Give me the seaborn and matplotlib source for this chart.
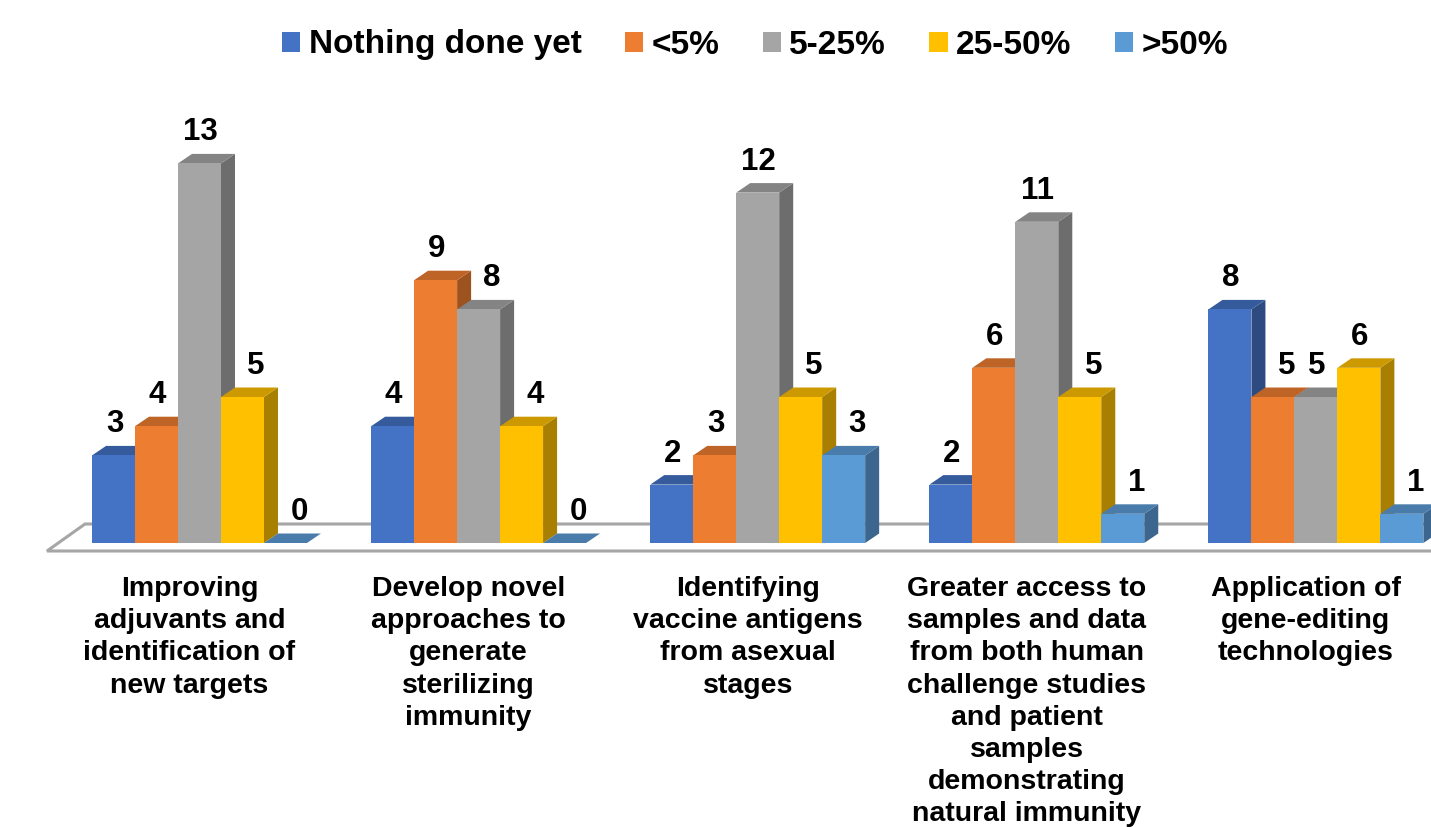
import numpy as np
import pandas as pd
import seaborn as sns
import matplotlib
matplotlib.use("Agg")
import matplotlib.pyplot as plt
from matplotlib.patches import Polygon, Patch
from matplotlib import colors as mcolors

# ---------------- data ----------------
categories = [
    "Improving\nadjuvants and\nidentification of\nnew targets",
    "Develop novel\napproaches to\ngenerate\nsterilizing\nimmunity",
    "Identifying\nvaccine antigens\nfrom asexual\nstages",
    "Greater access to\nsamples and data\nfrom both human\nchallenge studies\nand patient\nsamples\ndemonstrating\nnatural immunity",
    "Application of\ngene-editing\ntechnologies",
]
series_names = ["Nothing done yet", "<5%", "5-25%", "25-50%", ">50%"]
nothing_done = [3, 4, 2, 2, 8]
lt5 = [4, 9, 3, 6, 5]
p5_25 = [13, 8, 12, 11, 5]
p25_50 = [5, 4, 5, 5, 6]
gt50 = [0, 0, 3, 1, 1]
series_values = [nothing_done, lt5, p5_25, p25_50, gt50]
series_colors = ["#4472C4", "#ED7D31", "#A5A5A5", "#FFC000", "#5B9BD5"]

rows = []
for name, vals in zip(series_names, series_values):
    for cat, v in zip(categories, vals):
        rows.append({"category": cat, "series": name, "value": v})
df = pd.DataFrame(rows)

# ---------------- figure ----------------
sns.set_theme(style="white")
plt.rcParams["font.family"] = ["Liberation Sans", "DejaVu Sans"]
plt.rcParams["font.weight"] = "bold"
plt.rcParams["text.color"] = "black"

W, H = 1431, 827
fig = plt.figure(figsize=(W / 100, H / 100), dpi=100)
ax = fig.add_axes([0, 0, 1, 1])

sns.barplot(data=df, x="category", y="value", hue="series",
            hue_order=series_names, order=categories,
            palette=series_colors, saturation=1, width=0.77,
            linewidth=0, edgecolor="none", legend=False, ax=ax)

# pixel mapping: x_px = 199.5 + 279.1*x ; y_px(top) = 543 - 29.2*v
px_per_x = 279.1
px_per_y = 29.2
x0_px = 199.5
base_px = 543.0
ax.set_xlim(-x0_px / px_per_x, (W - x0_px) / px_per_x)
ax.set_ylim(-(H - base_px) / px_per_y, base_px / px_per_y)
ax.set_axis_off()

# 3D depth offsets (in data units)
dx = 14 / px_per_x
dy = 9.5 / px_per_y

def shade(c, f):
    r, g, b = mcolors.to_rgb(c)
    return (r * f, g * f, b * f)

bars = list(ax.patches)
bars_sorted = sorted(bars, key=lambda p: p.get_x())
prev = None
for k, p in enumerate(bars_sorted):
    x0 = p.get_x()
    w = p.get_width()
    x1 = x0 + w
    h = p.get_height()
    fc = p.get_facecolor()
    z = 10 + 3 * k
    side = Polygon([(x1, 0), (x1 + dx, dy), (x1 + dx, h + dy), (x1, h)],
                   closed=True, facecolor=shade(fc, 0.66), edgecolor="none", zorder=z)
    top = Polygon([(x0, h), (x1, h), (x1 + dx, h + dy), (x0 + dx, h + dy)],
                  closed=True, facecolor=shade(fc, 0.80), edgecolor="none", zorder=z + 1)
    ax.add_patch(side)
    ax.add_patch(top)
    p.set_zorder(z + 2)
    # value label: pushed towards the bar's right edge when the left neighbour is taller
    neighbour_taller = (prev is not None and abs(prev.get_x() + prev.get_width() - x0) < 1e-6
                        and prev.get_height() > h)
    if neighbour_taller:
        lx = x1 - 8 / px_per_x
    else:
        lx = x0 + w / 2 + 1 / px_per_x
    ax.text(lx, h + 0.55, f"{h:.0f}",
            ha="center", va="bottom", fontsize=22.5, fontweight="bold",
            color="black", zorder=200)
    prev = p

# floor
xl = ax.get_xlim()
yf = -8 / px_per_y
yb = 19 / px_per_y
fdx = 38 / px_per_x
fx0 = (47 - x0_px) / px_per_x
floor = Polygon([(fx0, yf), (xl[1] + 1, yf), (xl[1] + 1 + fdx, yb), (fx0 + fdx, yb)],
                closed=True, facecolor="white", edgecolor="#A6A6A6", linewidth=2.2,
                zorder=2, clip_on=True)
ax.add_patch(floor)

# category labels
for i, cat in enumerate(categories):
    ax.text(i - 10 / px_per_x, -(576 - base_px) / px_per_y, cat,
            ha="center", va="top", fontsize=20.5, fontweight="bold",
            color="black", linespacing=1.31, multialignment="center")

# legend
handles = [Patch(facecolor=c, edgecolor="none") for c in series_colors]
leg = fig.legend(handles, series_names, loc="center",
                 bbox_to_anchor=(755 / W, 1 - 45 / H), ncol=5, frameon=False,
                 prop={"size": 24, "weight": "bold"}, labelcolor="black",
                 handlelength=0.55, handleheight=0.55, handletextpad=0.25,
                 columnspacing=1.3, borderpad=0)

fig.savefig("out.png", dpi=100)
